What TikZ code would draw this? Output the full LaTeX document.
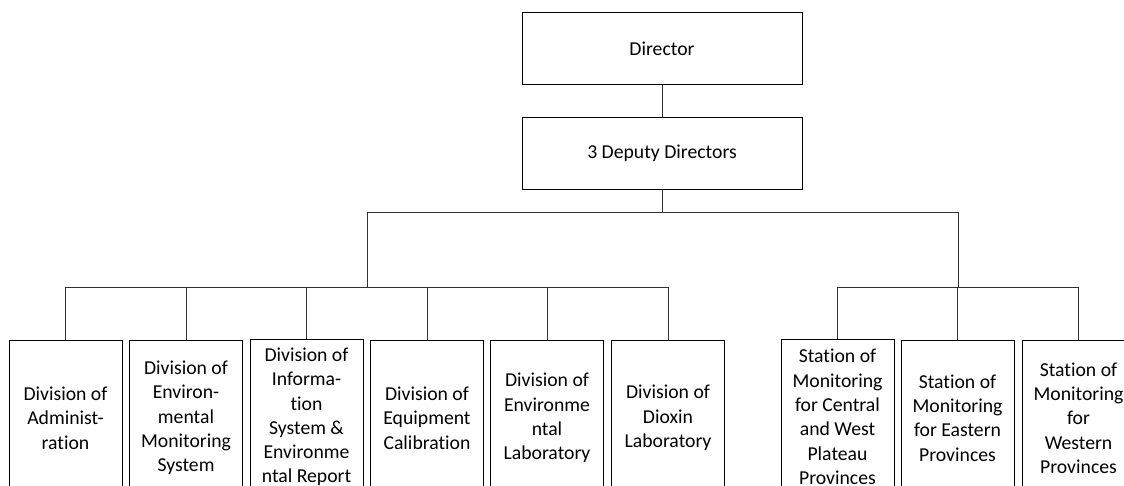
\documentclass[tikz,border=0pt]{standalone}
\usepackage{fontspec}
\setmainfont{Carlito}[Ligatures={NoCommon}]
\begin{document}
\begin{tikzpicture}[x=1pt,y=-1pt,
  box/.style={draw=black, line width=1pt, inner sep=0pt, align=center,
    minimum width=113pt, minimum height=156pt, font={\fontsize{19.7}{24.3}\selectfont}},
  topbox/.style={draw=black, line width=1pt, inner sep=0pt, align=center,
    minimum width=280pt, minimum height=72pt, font={\fontsize{19.7}{24.3}\selectfont}},
  conn/.style={draw=black!80, line width=0.9pt}]
\useasboundingbox (0,0) rectangle (1124,486);
\clip (0,0) rectangle (1124,486);
\node[topbox] (dir) at (662,49) {Director};
\node[topbox] (dep) at (662,153.5) {3 Deputy Directors};
\node[box] (b1) at (65.5,418) {Division of\\Administ-\\ration};
\node[box] (b2) at (186,418) {Division of\\Environ-\\mental\\Monitoring\\System};
\node[box] (b3) at (306.5,417) {Division of\\Informa-\\tion\\System \&\\Environme\\ntal Report};
\node[box] (b4) at (427,418) {Division of\\Equipment\\Calibration};
\node[box] (b5) at (547,418) {Division of\\Environme\\ntal\\Laboratory};
\node[box] (b6) at (668,418) {Division of\\Dioxin\\Laboratory};
\node[box] (s1) at (837.5,417) {Station of\\Monitoring\\for Central\\and West\\Plateau\\Provinces};
\node[box] (s2) at (957.5,418) {Station of\\Monitoring\\for Eastern\\Provinces};
\node[box] (s3) at (1078.5,418) {Station of\\Monitoring\\for\\Western\\Provinces};
\coordinate (tl) at (367,212);
\coordinate (tr) at (958,212);
\coordinate (gl) at (367,287);
\coordinate (gr) at (958,287);
\draw[conn] (dir.south) -- (dep.north);
\draw[conn] (dep.south) -- (dep.south |- tl);
\draw[conn] (tl) -- (tr);
\draw[conn] (tl) -- (gl);
\draw[conn] (tr) -- (gr);
\draw[conn] (b1.north) -- (b1.north |- gl) -- (b6.north |- gl) -- (b6.north);
\foreach \n in {b2,b3,b4,b5} \draw[conn] (\n.north) -- (\n.north |- gl);
\draw[conn] (s1.north) -- (s1.north |- gr) -- (s3.north |- gr) -- (s3.north);
\draw[conn] (s2.north) -- (s2.north |- gr);
\end{tikzpicture}
\end{document}
